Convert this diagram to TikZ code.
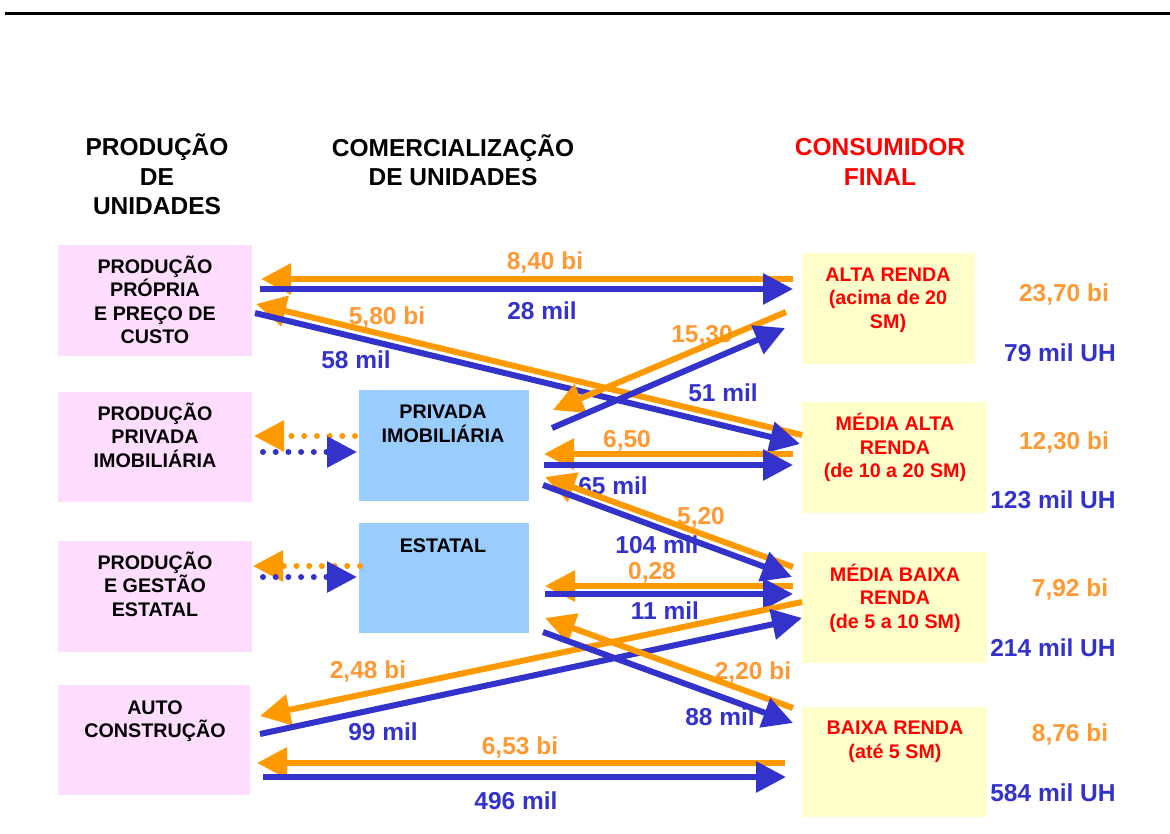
\documentclass[tikz,border=0pt]{standalone}
\usepackage{fontspec}
\setmainfont{Liberation Sans}
\usetikzlibrary{arrows.meta,calc}
\definecolor{arrO}{HTML}{FF9900}
\definecolor{lblO}{HTML}{FF9933}
\definecolor{arrB}{HTML}{3333CC}
\definecolor{pinkbox}{HTML}{FFDDFF}
\definecolor{bluebox}{HTML}{99CCFF}
\definecolor{yelbox}{HTML}{FFFFCC}
\definecolor{redtxt}{HTML}{FF0000}
\newcommand\fHead{\fontsize{24.5}{29.5}\selectfont\bfseries}
\newcommand\fBoxTxt{\fontsize{19.7}{23.5}\selectfont\bfseries}
\newcommand\fLbl{\fontsize{24.5}{29}\selectfont\bfseries}
\tikzset{
  box/.style={anchor=north west, inner sep=0pt, outer sep=0pt, draw=none},
  pbox/.style={box, fill=pinkbox},
  bbox/.style={box, fill=bluebox},
  ybox/.style={box, fill=yelbox},
  head/.style={font=\fHead, align=center, inner sep=0pt},
  btxt/.style={font=\fBoxTxt, align=center, inner sep=0pt},
  rtxt/.style={btxt, text=redtxt},
  olbl/.style={font=\fLbl, text=lblO, inner sep=0pt},
  blbl/.style={font=\fLbl, text=arrB, inner sep=0pt},
  oarr/.style={draw=arrO, line width=6pt, -{Triangle[length=30pt,width=30pt]}},
  barr/.style={draw=arrB, line width=6pt, -{Triangle[length=30pt,width=30pt]}},
  dots/.style={dash pattern=on 0pt off 12.7pt, line cap=round},
}
\begin{document}
\begin{tikzpicture}[x=1pt,y=-1pt]
\path[use as bounding box] (0,0) rectangle (1170,833);
\draw[line width=3pt] (5,13) -- (1170,13);

% headers
\node[head] (h1) at (157,174.5) {PRODUÇÃO\\DE\\UNIDADES};
\node[head] (h2) at (453,160) {COMERCIALIZAÇÃO\\DE UNIDADES};
\node[head, text=redtxt] (h3) at (880,162) {CONSUMIDOR\\FINAL};

% boxes
\node[pbox, minimum width=194pt, minimum height=111pt] (pp) at (58,245) {};
\node[pbox, minimum width=194pt, minimum height=110pt] (pi) at (58,392) {};
\node[pbox, minimum width=194pt, minimum height=111pt] (pe) at (58,541) {};
\node[pbox, minimum width=192pt, minimum height=110pt] (ac) at (58,685) {};
\node[bbox, minimum width=170pt, minimum height=111pt] (cpriv) at (359,390) {};
\node[bbox, minimum width=170pt, minimum height=110pt] (cest) at (359,523) {};
\node[ybox, minimum width=173pt, minimum height=111pt] (alta) at (802,253) {};
\node[ybox, minimum width=185pt, minimum height=111pt] (malta) at (802,402) {};
\node[ybox, minimum width=185pt, minimum height=111pt] (mbaixa) at (802,552) {};
\node[ybox, minimum width=185pt, minimum height=110pt] (baixa) at (802,707) {};

% box texts
\node[btxt] (tpp) at (155,300) {PRODUÇÃO\\PRÓPRIA\\E PREÇO DE\\CUSTO};
\node[btxt] (tpi) at (155,435) {PRODUÇÃO\\PRIVADA\\IMOBILIÁRIA};
\node[btxt] (tpe) at (155,584) {PRODUÇÃO\\E GESTÃO\\ESTATAL};
\node[btxt] (tac) at (155,721) {AUTO\\CONSTRUÇÃO};
\node[btxt] (tcpriv) at (443,424) {PRIVADA\\IMOBILIÁRIA};
\node[btxt] (tcest) at (443,546) {ESTATAL};
\node[rtxt] (talta) at (888,300) {ALTA RENDA\\(acima de 20\\SM)};
\node[rtxt] (tmalta) at (895,447.5) {MÉDIA ALTA\\RENDA\\(de 10 a 20 SM)};
\node[rtxt] (tmbaixa) at (895,598) {MÉDIA BAIXA\\RENDA\\(de 5 a 10 SM)};
\node[rtxt] (tbaixa) at (895,742) {BAIXA RENDA\\(até 5 SM)};

% right totals
\node[olbl] (r1o) at (1064,295) {23,70 bi};
\node[blbl] (r1b) at (1060,353) {79 mil UH};
\node[olbl] (r2o) at (1064,443) {12,30 bi};
\node[blbl] (r2b) at (1053,500) {123 mil UH};
\node[olbl] (r3o) at (1070,590) {7,92 bi};
\node[blbl] (r3b) at (1053,648) {214 mil UH};
\node[olbl] (r4o) at (1070,735) {8,76 bi};
\node[blbl] (r4b) at (1053,793) {584 mil UH};

% arrow labels
\node[olbl] (l1) at (545,263) {8,40 bi};
\node[blbl] (l2) at (542,311) {28 mil};
\node[olbl] (l3) at (387,318) {5,80 bi};
\node[blbl] (l4) at (356,360) {58 mil};
\node[olbl] (l5) at (702,336) {15,30};
\node[blbl] (l6) at (723,393) {51 mil};
\node[olbl] (l7) at (627,441) {6,50};
\node[blbl] (l8) at (613,486) {65 mil};
\node[olbl] (l9) at (701,518) {5,20};
\node[blbl] (l10) at (657,545) {104 mil};
\node[olbl] (l11) at (652,573) {0,28};
\node[blbl] (l12) at (665,611) {11 mil};
\node[olbl] (l13) at (368,672) {2,48 bi};
\node[blbl] (l14) at (383,732) {99 mil};
\node[olbl] (l15) at (753,673) {2,20 bi};
\node[blbl] (l16) at (720,717) {88 mil};
\node[olbl] (l17) at (520,748) {6,53 bi};
\node[blbl] (l18) at (516,801) {496 mil};

% arrows
\draw[oarr] ($(alta.west)+(-9,-29.5)$) -- ($(pp.east)+(9,-21.5)$);
\draw[barr] ($(pp.east)+(8,-11.5)$) -- ($(alta.west)+(-9,-19.5)$);
\draw[oarr] ($(malta.west)+(0,-22.5)$) -- ($(pp.east)+(4,3.5)$);
\draw[barr] ($(pp.east)+(3,12.5)$) -- ($(malta.west)+(-2,-13.5)$);
\draw[oarr] ($(alta.west)+(-16,3.5)$) -- ($(cpriv.east)+(24,-35.5)$);
\draw[barr] ($(cpriv.east)+(23,-17.5)$) -- ($(alta.west)+(-17,19.5)$);
\draw[oarr] ($(malta.west)+(-9,-3.5)$) -- ($(cpriv.east)+(15,8.5)$);
\draw[barr] ($(cpriv.east)+(15,19.5)$) -- ($(malta.west)+(-9,7.5)$);
\draw[oarr] ($(mbaixa.west)+(-9,-40.5)$) -- ($(cpriv.east)+(16,31.5)$);
\draw[barr] ($(cpriv.east)+(14,39.5)$) -- ($(mbaixa.west)+(-10,-30.5)$);
\draw[oarr] ($(mbaixa.west)+(-9,-21.5)$) -- ($(cest.east)+(16,8)$);
\draw[barr] ($(cest.east)+(16,16)$) -- ($(mbaixa.west)+(-9,-13.5)$);
\draw[oarr] ($(mbaixa.west)+(0,-5.5)$) -- ($(ac.east)+(10,-24)$);
\draw[barr] ($(ac.east)+(10,-6)$) -- ($(mbaixa.west)+(0,10.5)$);
\draw[oarr] ($(baixa.west)+(-9,-54)$) -- ($(cest.east)+(16,40)$);
\draw[barr] ($(cest.east)+(14,54)$) -- ($(baixa.west)+(-9,-39)$);
\draw[oarr] ($(baixa.west)+(-17,1)$) -- ($(ac.east)+(7,23)$);
\draw[barr] ($(ac.east)+(13,37)$) -- ($(baixa.west)+(-16,15)$);

% dotted arrows
\draw[oarr, dots] ($(cpriv.west)+(-4,-9.5)$) -- ($(pi.east)+(2,-11)$);
\draw[barr, dots] ($(pi.east)+(11,5)$) -- ($(cpriv.west)+(-2,6.5)$);
\draw[oarr, dots] ($(cest.west)+(1,-12)$) -- ($(pe.east)+(1,-30.5)$);
\draw[barr, dots] ($(pe.east)+(11,-19.5)$) -- ($(cest.west)+(-2,-1)$);
\end{tikzpicture}
\end{document}
